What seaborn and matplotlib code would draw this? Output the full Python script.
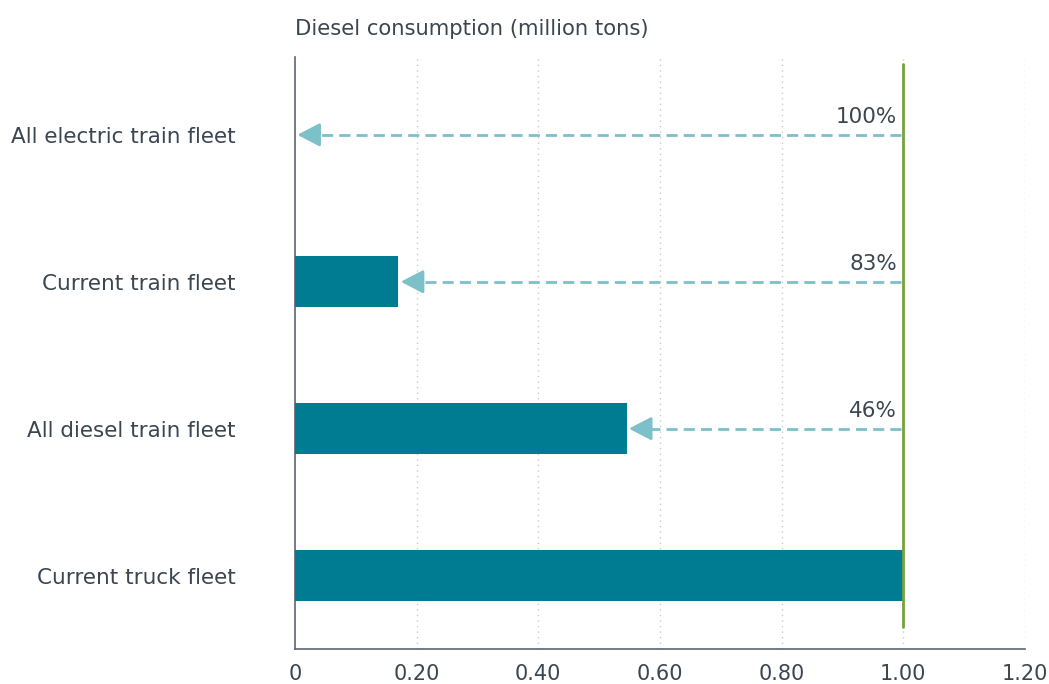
import matplotlib
matplotlib.use("Agg")
import matplotlib.pyplot as plt
import seaborn as sns
import pandas as pd

# Scenario data
categories = ["All electric train fleet", "Current train fleet",
              "All diesel train fleet", "Current truck fleet"]
diesel_mt = [0.0, 0.17, 0.545, 1.0]
reduction_labels = ["100%", "83%", "46%", None]
x_ticks = [0, 0.2, 0.4, 0.6, 0.8, 1.0, 1.2]
x_tick_labels = ["0", "0.20", "0.40", "0.60", "0.80", "1.00", "1.20"]

baseline = diesel_mt[categories.index("Current truck fleet")]

BAR = "#007c92"
ARROW = "#7cc0c9"
TEXT = "#3b4650"
GREEN = "#78a23e"

sns.set_theme(style="white")
plt.rcParams["font.family"] = ["DejaVu Sans"]

df = pd.DataFrame({"scenario": categories, "diesel": diesel_mt})

fig = plt.figure(figsize=(10.49, 6.84), dpi=100)
ax = fig.add_axes([0.2812, 0.0512, 0.6959, 0.8655])

sns.barplot(data=df, y="scenario", x="diesel", orient="h", color=BAR,
            saturation=1, width=0.35, linewidth=0, ax=ax, zorder=3)

ax.set_xlim(0, 1.2)
ax.set_ylim(3.5, -0.53)
ax.set_xticks(x_ticks)
ax.set_xticklabels(x_tick_labels)
ax.set_xlabel("")
ax.set_ylabel("")

# Dotted vertical gridlines
for t in x_ticks[1:]:
    ax.axvline(t, color="#c8ccd0", lw=1.0, ls=(0, (1, 3)), zorder=1)

# Baseline marker at truck fleet consumption
ax.axvline(baseline, ymin=0.037, ymax=0.988, color=GREEN, lw=2, zorder=4)

# Reduction arrows: dashed shaft from the baseline, solid head at the bar end
head = 0.028
for i, (val, lab) in enumerate(zip(diesel_mt, reduction_labels)):
    if lab is None:
        continue
    tip = val + 0.004
    ax.plot([baseline - 0.003, tip + head], [i, i], color=ARROW, lw=2,
            ls=(0, (4, 2.2)), zorder=5)
    ax.annotate("", xy=(tip, i), xytext=(tip + head + 0.004, i),
                arrowprops=dict(arrowstyle="-|>,head_length=1.15,head_width=0.6",
                                color=ARROW, lw=2, shrinkA=0, shrinkB=0),
                zorder=5)
    ax.text(baseline - 0.01, i - 0.05, lab, ha="right", va="bottom",
            fontsize=15.5, color=TEXT, zorder=6)

for side in ["top", "right"]:
    ax.spines[side].set_visible(False)
for side in ["left", "bottom"]:
    ax.spines[side].set_color("#5d666e")
    ax.spines[side].set_linewidth(1.2)

ax.tick_params(axis="x", length=0, pad=11, labelsize=15, labelcolor=TEXT)
ax.tick_params(axis="y", length=0, pad=43, labelsize=15.5, labelcolor=TEXT)

fig.text(0.2812, 0.958, "Diesel consumption (million tons)", ha="left",
         va="center", fontsize=15.2, color=TEXT)

fig.savefig("out.png", dpi=100)
